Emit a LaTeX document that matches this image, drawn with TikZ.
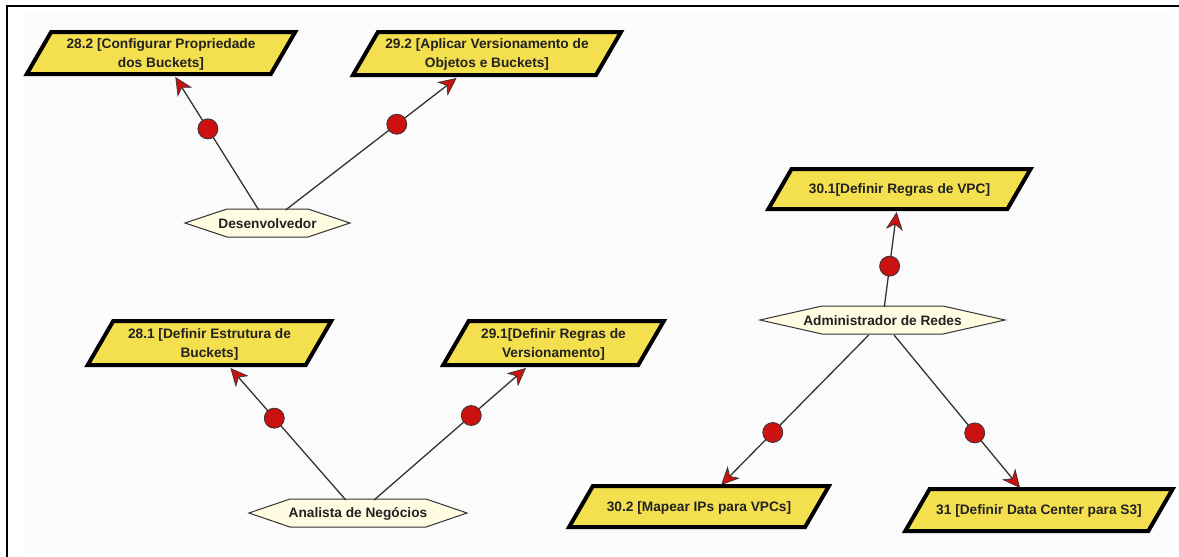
\documentclass[tikz,border=0pt]{standalone}
\usepackage{fontspec}
\setmainfont{Liberation Sans}
\usetikzlibrary{arrows.meta}

\definecolor{boxyellow}{HTML}{F4DF4E}
\definecolor{actorcream}{HTML}{FFFCE2}
\definecolor{dotred}{HTML}{CC1111}
\definecolor{inkgrey}{HTML}{333333}
\definecolor{paper}{HTML}{FBFBFB}
\definecolor{labelink}{HTML}{222222}

\tikzset{
  labelfont/.style={text=labelink, font=\bfseries\fontsize{13.7}{19}\selectfont},
  usecase/.style={rectangle, inner sep=0pt, outer sep=0pt, align=center, labelfont},
  usecaseshape/.style={fill=boxyellow, draw=black, line width=4pt, line join=miter},
  actor/.style={rectangle, inner sep=0pt, outer sep=0pt, minimum height=28pt, labelfont},
  actorshape/.style={fill=actorcream, draw=inkgrey, line width=1pt, line join=miter},
  flow/.style={draw=inkgrey, line width=1.3pt,
    -{Stealth[length=18pt, width=17pt, inset=5.5pt, fill=dotred, line width=0.7pt]}},
  dot/.style={circle, fill=dotred, draw=inkgrey, line width=0.8pt,
    minimum size=20pt, inner sep=0pt},
}

% slanted box: #1 name, #2 x, #3 y, #4 half width, #5 half height, #6 label
\newcommand{\usecasenode}[6]{%
  \filldraw[usecaseshape] (#2-#4-0.58*#5,#3+#5) -- (#2+#4-0.58*#5,#3+#5)
    -- (#2+#4+0.58*#5,#3-#5) -- (#2-#4+0.58*#5,#3-#5) -- cycle;
  \node[usecase, minimum width=2*#4, minimum height=2*#5+4] (#1) at (#2,#3+1) {#6};}

% stretched hexagon: #1 name, #2 x, #3 y, #4 half width, #5 pointer length, #6 label
\newcommand{\actornode}[6]{%
  \filldraw[actorshape] (#2-#4,#3) -- (#2-#4+#5,#3-14) -- (#2+#4-#5,#3-14)
    -- (#2+#4,#3) -- (#2+#4-#5,#3+14) -- (#2-#4+#5,#3+14) -- cycle;
  \node[actor, minimum width=2*#4] (#1) at (#2,#3+1) {#6};}

\begin{document}
\begin{tikzpicture}[x=1pt, y=-1pt]
  \useasboundingbox (0,0) rectangle (1179,557);
  \fill[white] (0,0) rectangle (1179,557);
  \fill[paper] (24,14) rectangle (1173,553);
  \draw[line width=2pt] (7,557) -- (7,6) -- (1179,6);

  % use cases
  \usecasenode{uc282}{161}{53}{122}{21}{28.2 [Configurar Propriedade\\dos Buckets]}
  \usecasenode{uc292}{487}{53.5}{121.5}{21.5}{29.2 [Aplicar Versionamento de\\Objetos e Buckets]}
  \usecasenode{uc301}{899.5}{189}{119.5}{20}{30.1[Definir Regras de VPC]}
  \usecasenode{uc281}{209.5}{343}{109}{22}{28.1 [Definir Estrutura de\\Buckets]}
  \usecasenode{uc291}{553.5}{343}{97.5}{22}{29.1[Definir Regras de\\Versionamento]}
  \usecasenode{uc302}{699}{506.5}{118}{20.5}{30.2 [Mapear IPs para VPCs]}
  \usecasenode{uc31}{1039}{510}{121.5}{21}{31 [Definir Data Center para S3]}

  % actors
  \actornode{dev}{267.5}{223}{82.5}{42}{Desenvolvedor}
  \actornode{net}{882.5}{320}{122.5}{62}{Administrador de Redes}
  \actornode{ana}{358}{513}{109}{41}{Analista de Negócios}

  % associations
  \draw[flow] (dev) -- node[dot, pos=0.61]{} (uc282);
  \draw[flow] (dev) -- node[dot, pos=0.65]{} (uc292);
  \draw[flow] (net) -- node[dot, pos=0.43]{} (uc301);
  \draw[flow] (ana) -- node[dot, pos=0.62]{} (uc281);
  \draw[flow] (ana) -- node[dot, pos=0.64]{} (uc291);
  \draw[flow] (net) -- node[dot, pos=0.65]{} (uc302);
  \draw[flow] (net) -- node[dot, pos=0.64]{} (uc31);
\end{tikzpicture}
\end{document}
